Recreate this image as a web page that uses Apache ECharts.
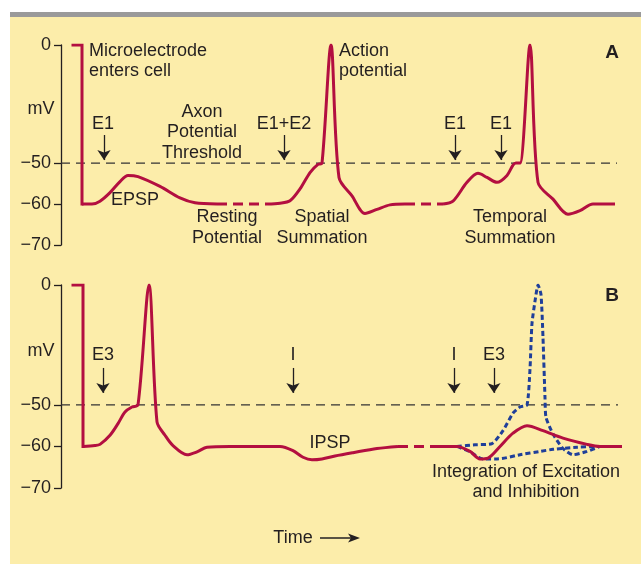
<!DOCTYPE html>
<html>
<head>
<meta charset="utf-8">
<script src="https://cdn.jsdelivr.net/npm/echarts@6/dist/echarts.min.js"></script>
<style>
  html, body { margin:0; padding:0; background:#ffffff; }
  #wrap { position:relative; width:641px; height:564px; overflow:hidden; }
  #bg { position:absolute; left:10px; top:17px; width:631px; height:547px; background:#fcedaa; }
  #bar { position:absolute; left:10px; top:12px; width:631px; height:5px; background:#9a9a9a; }
  #chart { position:absolute; left:0; top:0; width:641px; height:564px; }
</style>
</head>
<body>
<div id="wrap"><div id="bg"></div><div id="bar"></div><div id="chart"></div></div>
<script>
// ---------- data (time units, membrane potential in mV) ----------
const yTicks = [0, -50, -60, -70];
const threshold = -50;

// Panel A
const entryA  = [[12,0],[21,0],[21,-60]];
const traceA1 = [[21,-60],[31,-60],[39,-59.3],[49,-57.2],[59,-54.5],[67,-53],[77,-53.3],[99,-55.7],[119,-58.5],[134,-59.7],[156,-60]];
const restA1  = [[156,-60],[206,-60]];
const traceA2 = [[206,-60],[219,-59.8],[229,-59.2],[239,-56.3],[249,-52.3],[257,-50.3],[261,-50],[270,0],[278,-53.5],[291,-58],[304,-62.3],[316,-61.3],[329,-60.2],[344,-60]];
const restA2  = [[344,-60],[382,-60]];
const traceA3 = [[382,-60],[392,-59.3],[406,-54.7],[417,-52.5],[426,-53.5],[436,-54.7],[446,-53],[452,-50.5],[455,-50],[459,-50],[469,0],[477,-54.7],[492,-58.8],[507,-62.5],[519,-61.6],[532,-60],[554,-60]];
const arrowsA = [43, 223, 394, 440];
const arrowA  = [-38.1, -48.7];

// Panel B
const entryB  = [[12,0],[22,0],[22,-60]];
const traceB1 = [[22,-60],[34,-59.8],[39,-59.5],[49,-57.3],[57,-54.5],[64,-51.7],[71,-50.5],[77,-50],[88,0],[96,-54.1],[104,-57.3],[112,-59.8],[126,-62],[136,-61.3],[146,-60.2],[169,-60],[219,-60],[232,-61],[242,-62.6],[251,-63.2],[261,-63],[274,-62.3],[292,-61.5],[316,-60.5],[337,-60]];
const restB   = [[337,-60],[376,-60]];
const traceB2 = [[376,-60],[396,-60],[409,-61.2],[419,-63],[427,-62.8],[439,-60],[452,-56.8],[466,-55],[482,-56.2],[502,-58],[526,-59.5],[539,-60],[561,-60]];
const exciteOnly  = [[396,-60],[414,-59.6],[431,-59.3],[442,-56.2],[452,-52],[459,-50.5],[466,-50],[469,-35],[471,-16],[475,-4],[477,0],[480,-4],[482,-22],[484,-47],[485,-53],[492,-57],[502,-60.5],[512,-62],[526,-61.2],[539,-60]];
const inhibitOnly = [[396,-60],[409,-61.3],[422,-63],[436,-63],[459,-62],[479,-61.2],[492,-60.7],[516,-60.2],[539,-60]];
const arrowsB = [42, 232, 393, 433];
const arrowB  = [-34.6, -45];

// ---------- scale: compressed above threshold ----------
const K = 0.577;
function warp(v){ return v > threshold ? threshold + (v - threshold) * K : v; }
function W(arr){ return arr.map(p => [p[0], warp(p[1])]); }
const YMAX = warp(0);

const RED = '#b30f40', BLUE = '#1f3f9a', INK = '#231f20';
const FONT = '"Liberation Sans", Arial, Helvetica, sans-serif';

function yAxis(gi){
  const vals = yTicks.map(warp);
  return {
    gridIndex: gi, type:'value', min:-70, max:YMAX,
    splitLine:{show:false},
    axisLine:{show:true, lineStyle:{color:INK, width:1.3}},
    axisTick:{show:true, length:7, customValues: vals, lineStyle:{color:INK, width:1.3}},
    axisLabel:{customValues: vals, margin:10, fontSize:18, color:INK, fontFamily:FONT,
      formatter: v => { const t = yTicks.find(t => Math.abs(warp(t) - v) < 0.01); return t === undefined ? '' : (t === 0 ? '0' : '\u2212' + Math.abs(t)); }}
  };
}
function xAxis(gi){
  return { gridIndex: gi, type:'value', min:0, max:562, show:false };
}
function line(gi, data, opts){
  return Object.assign({
    type:'line', xAxisIndex:gi, yAxisIndex:gi, data: W(data), symbol:'none',
    smooth:0.3, z:3,
    lineStyle:{color:RED, width:3, cap:'butt', join:'round'}
  }, opts || {});
}
function thresholdSeries(gi, arrows, ay, x1){
  return {
    type:'line', xAxisIndex:gi, yAxisIndex:gi, symbol:'none', z:2,
    data: W([[0, threshold],[x1, threshold]]),
    lineStyle:{color:'#333333', width:1.3, type:[9,6]},
    markLine:{
      silent:true, symbol:['none','arrow'], symbolSize:10, label:{show:false},
      lineStyle:{color:INK, width:1.3, type:'solid'},
      data: arrows.map(x => [{coord:[x, warp(ay[0])]},{coord:[x, warp(ay[1])]}])
    }
  };
}

const series = [
  thresholdSeries(0, arrowsA, arrowA, 556),
  line(0, entryA, {smooth:false, lineStyle:{color:RED, width:3, cap:'square', join:'miter'}}),
  line(0, traceA1),
  line(0, restA1, {smooth:false, lineStyle:{color:RED, width:3, type:[10,6]}}),
  line(0, traceA2),
  line(0, restA2, {smooth:false, lineStyle:{color:RED, width:3, type:[10,6]}}),
  line(0, traceA3),

  thresholdSeries(1, arrowsB, arrowB, 557),
  line(1, entryB, {smooth:false, lineStyle:{color:RED, width:3, cap:'square', join:'miter'}}),
  line(1, traceB1),
  line(1, restB, {smooth:false, lineStyle:{color:RED, width:3, type:[10,6]}}),
  line(1, inhibitOnly, {z:2, lineStyle:{color:BLUE, width:3, type:[5,3]}}),
  line(1, exciteOnly, {z:2, smooth:0.2, lineStyle:{color:BLUE, width:3, type:[5,3]}}),
  line(1, traceB2)
];

function T(text, x, y, align, extra){
  return { type:'text', x:x, y:y, z:10, silent:true,
    style: Object.assign({ text:text, fill:INK, font:'18px ' + FONT, align: align || 'center', verticalAlign:'middle' }, extra || {}) };
}
const graphics = [
  T('Microelectrode', 89, 51, 'left'), T('enters cell', 89, 71, 'left'),
  T('mV', 41, 109), T('E1', 103, 124),
  T('Axon', 202, 112), T('Potential', 202, 132), T('Threshold', 202, 153),
  T('E1+E2', 284, 124), T('EPSP', 135, 200),
  T('Resting', 227, 217), T('Potential', 227, 238),
  T('Spatial', 322, 217), T('Summation', 322, 238),
  T('Action', 339, 51, 'left'), T('potential', 339, 71, 'left'),
  T('E1', 455, 124), T('E1', 501, 124),
  T('Temporal', 510, 217), T('Summation', 510, 238),
  T('A', 612, 53, 'center', {font:'bold 19px ' + FONT}),
  T('mV', 41, 351), T('E3', 103, 355), T('I', 293, 355), T('IPSP', 330, 443),
  T('I', 454, 355), T('E3', 494, 355),
  T('Integration of Excitation', 526, 472), T('and Inhibition', 526, 492),
  T('B', 612, 296, 'center', {font:'bold 19px ' + FONT}),
  T('Time', 293, 538),
  { type:'line', z:10, silent:true, shape:{x1:320, y1:538, x2:354, y2:538}, style:{stroke:INK, lineWidth:1.5} },
  { type:'polygon', z:10, silent:true, shape:{points:[[360,538],[348,533.5],[351,538],[348,542.5]]}, style:{fill:INK} }
];

const chart = echarts.init(document.getElementById('chart'), null, {renderer:'canvas'});
chart.setOption({
  animation:false,
  backgroundColor:'transparent',
  grid:[
    {left:61, top:45, width:562, height:200},
    {left:61, top:285, width:562, height:203}
  ],
  xAxis:[xAxis(0), xAxis(1)],
  yAxis:[yAxis(0), yAxis(1)],
  series: series,
  graphic: graphics
});
</script>
</body>
</html>
